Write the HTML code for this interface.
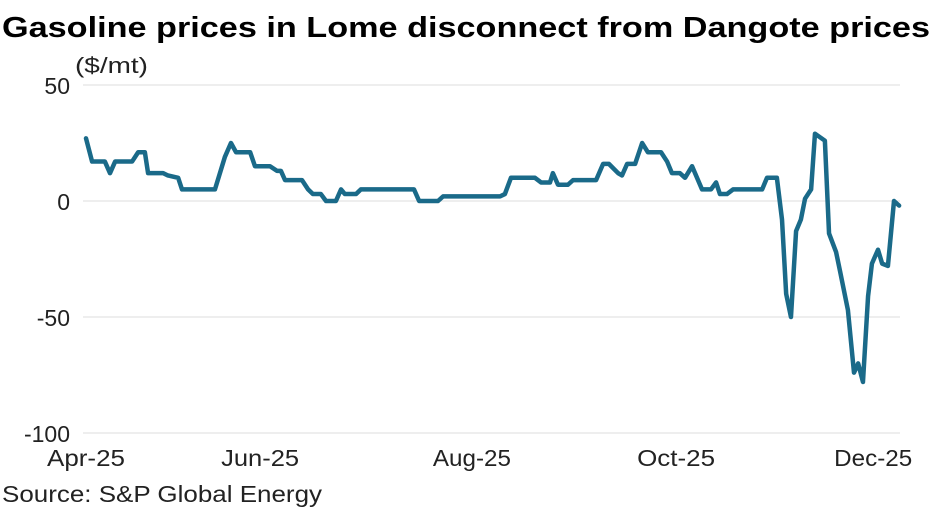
<!DOCTYPE html>
<html><head><meta charset="utf-8"><style>
body{margin:0;background:#fff;width:940px;height:514px;overflow:hidden;font-family:"Liberation Sans",sans-serif}
</style></head><body>
<svg width="940" height="514" font-family="Liberation Sans, sans-serif">
<text x="2" y="37" font-size="29" font-weight="bold" fill="#000" textLength="928" lengthAdjust="spacingAndGlyphs">Gasoline prices in Lome disconnect from Dangote prices</text>
<text x="75" y="73" font-size="22" fill="#222" textLength="73" lengthAdjust="spacingAndGlyphs">($/mt)</text>
<text x="2" y="502" font-size="23" fill="#222" textLength="320" lengthAdjust="spacingAndGlyphs">Source: S&amp;P Global Energy</text>
<g id="grid"></g><g id="yl"></g><g id="xl"></g><g id="line"></g>
</svg>
<script>
const days=[0,1.9,5.9,7.5,9.1,14.4,16.3,18.4,19.4,24.1,25.6,28.8,30,40.3,43.4,45.3,46.9,49.4,51.3,52.8,57.5,59.7,60.9,62.2,67.5,69.4,70.9,73.4,75,78.1,79.7,80.9,84.4,85.9,102.5,104.1,110,111.6,129.4,130.9,132.8,140.3,142.2,145,145.9,147.5,150.6,152.2,159.4,161.6,163.4,166.3,167.5,169.1,171.6,173.8,175.6,179.7,181.6,183.1,185.6,187.2,189.4,192.5,195.3,196.9,198.1,200.3,202.2,211.3,212.8,215.9,217.5,218.8,220.3,221.9,223.4,224.7,226.6,227.8,230.9,232.2,234.4,235.6,238.1,240,241.3,242.8,244.4,245.6,247.5,248.8,250.6,252.5,254.1];
const values=[27,17,17,12,17,17,21,21,12,12,11,10,5,5,19,25,21,21,21,15,15,13,13,9,9,5,3,3,0,0,5,3,3,5,5,0,0,2,2,3,10,10,8,8,12,7,7,9,9,16,16,12,11,16,16,25,21,21,17,12,12,10,15,5,5,8,3,3,5,5,10,10,-8,-40,-50,-13,-8,1,5,29,26,-14,-22,-30,-47,-74,-70,-78,-41,-27,-21,-27,-28,0,-2];
const yTicks=[50,0,-50,-100];
const xTickLabels=["Apr-25","Jun-25","Aug-25","Oct-25","Dec-25"];
const xTickDays=[0,54.4,120.6,184.4,246];
const x=d=>86+d*3.2;
const y=v=>201-v*2.32;
const NS="http://www.w3.org/2000/svg";
function mk(t,a,p){const e=document.createElementNS(NS,t);for(const k in a)e.setAttribute(k,a[k]);p.appendChild(e);return e;}
const g=document.getElementById('grid'),yl=document.getElementById('yl'),xl=document.getElementById('xl'),ln=document.getElementById('line');
yTicks.forEach(v=>{
 const l=mk('line',{x1:83,x2:900,y1:y(v),y2:y(v),stroke:'#dcdcdc','stroke-width':1},g);
 
 
 const t=mk('text',{x:70,y:y(v)+9,'text-anchor':'end','font-size':23,fill:'#222'},yl);
 t.textContent=v;
 
 
});
xTickLabels.forEach((s,i)=>{
 const t=mk('text',{x:x(xTickDays[i])-39,y:466,'font-size':23,fill:'#222',textLength:78,lengthAdjust:'spacingAndGlyphs'},xl);
 t.textContent=s;
 
 
});
const p=mk('polyline',{points:days.map((d,i)=>x(d)+','+y(values[i])).join(' '),fill:'none',stroke:'#1a6a89','stroke-width':4.5,'stroke-linejoin':'round','stroke-linecap':'round'},ln);


</script>
</body></html>
